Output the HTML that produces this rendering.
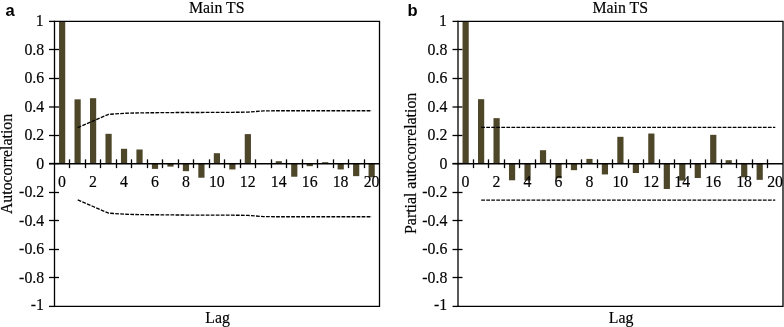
<!DOCTYPE html>
<html><head><meta charset="utf-8"><title>ACF and PACF</title>
<style>
html,body{margin:0;padding:0;background:#fff;}
svg{display:block;}
.t{font-family:"Liberation Serif",serif;font-size:15.85px;fill:#000;stroke:#000;stroke-width:0.16px;}
.b{font-family:"Liberation Sans",sans-serif;font-weight:bold;font-size:16.5px;fill:#000;}
</style></head><body>
<svg width="784" height="327" viewBox="0 0 784 327">
<rect width="784" height="327" fill="#fff"/>
<g>
<path d="M49.00,49.50 H59.00" stroke="#000" stroke-width="1.3" fill="none"/>
<path d="M49.00,78.50 H59.00" stroke="#000" stroke-width="1.3" fill="none"/>
<path d="M49.00,107.00 H59.00" stroke="#000" stroke-width="1.3" fill="none"/>
<path d="M49.00,135.50 H59.00" stroke="#000" stroke-width="1.3" fill="none"/>
<path d="M49.00,163.50 H59.00" stroke="#000" stroke-width="1.3" fill="none"/>
<path d="M49.00,192.50 H59.00" stroke="#000" stroke-width="1.3" fill="none"/>
<path d="M49.00,220.50 H59.00" stroke="#000" stroke-width="1.3" fill="none"/>
<path d="M49.00,249.50 H59.00" stroke="#000" stroke-width="1.3" fill="none"/>
<path d="M49.00,277.50 H59.00" stroke="#000" stroke-width="1.3" fill="none"/>
<path d="M49.00,21.40 H55.00" stroke="#000" stroke-width="1.3" fill="none"/>
<path d="M49.00,306.40 H55.00" stroke="#000" stroke-width="1.3" fill="none"/>
<rect x="59.04" y="21.25" width="6.2" height="142.50" fill="#4d4629"/>
<rect x="74.51" y="99.34" width="6.2" height="64.41" fill="#4d4629"/>
<rect x="89.99" y="98.20" width="6.2" height="65.55" fill="#4d4629"/>
<rect x="105.47" y="133.82" width="6.2" height="29.93" fill="#4d4629"/>
<rect x="120.94" y="148.79" width="6.2" height="14.96" fill="#4d4629"/>
<rect x="136.42" y="149.50" width="6.2" height="14.25" fill="#4d4629"/>
<rect x="151.90" y="163.75" width="6.2" height="5.13" fill="#4d4629"/>
<rect x="167.37" y="163.75" width="6.2" height="2.85" fill="#4d4629"/>
<rect x="182.85" y="163.75" width="6.2" height="7.41" fill="#4d4629"/>
<rect x="198.32" y="163.75" width="6.2" height="13.97" fill="#4d4629"/>
<rect x="213.80" y="153.21" width="6.2" height="10.54" fill="#4d4629"/>
<rect x="229.28" y="163.75" width="6.2" height="5.70" fill="#4d4629"/>
<rect x="244.75" y="134.11" width="6.2" height="29.64" fill="#4d4629"/>
<rect x="275.70" y="161.19" width="6.2" height="2.56" fill="#4d4629"/>
<rect x="291.18" y="163.75" width="6.2" height="12.97" fill="#4d4629"/>
<rect x="306.66" y="163.75" width="6.2" height="2.42" fill="#4d4629"/>
<rect x="322.13" y="162.18" width="6.2" height="1.57" fill="#4d4629"/>
<rect x="337.61" y="163.75" width="6.2" height="5.70" fill="#4d4629"/>
<rect x="353.09" y="163.75" width="6.2" height="12.40" fill="#4d4629"/>
<rect x="368.56" y="163.75" width="6.2" height="13.54" fill="#4d4629"/>
<path d="M54.50,21.4 H379.50 V306.4 H54.50 Z" stroke="#000" stroke-width="1.3" fill="none"/>
<path d="M49.00,163.75 H379.50" stroke="#000" stroke-width="1.3" fill="none"/>
<text transform="translate(43.80,25.80) scale(1,1.08)" text-anchor="end" class="t">1</text>
<text transform="translate(44.20,54.80) scale(1,1.08)" text-anchor="end" class="t">0.8</text>
<text transform="translate(44.20,83.30) scale(1,1.08)" text-anchor="end" class="t">0.6</text>
<text transform="translate(44.20,111.80) scale(1,1.08)" text-anchor="end" class="t">0.4</text>
<text transform="translate(44.20,140.30) scale(1,1.08)" text-anchor="end" class="t">0.2</text>
<text transform="translate(44.20,168.80) scale(1,1.08)" text-anchor="end" class="t">0</text>
<text transform="translate(44.20,197.30) scale(1,1.08)" text-anchor="end" class="t">-0.2</text>
<text transform="translate(44.20,225.80) scale(1,1.08)" text-anchor="end" class="t">-0.4</text>
<text transform="translate(44.20,254.30) scale(1,1.08)" text-anchor="end" class="t">-0.6</text>
<text transform="translate(44.20,282.80) scale(1,1.08)" text-anchor="end" class="t">-0.8</text>
<text transform="translate(43.90,310.40) scale(1,1.08)" text-anchor="end" class="t">-1</text>
<path d="M69.50,159.35 V168.15" stroke="#000" stroke-width="1.3" fill="none"/>
<path d="M85.50,159.35 V168.15" stroke="#000" stroke-width="1.3" fill="none"/>
<path d="M100.50,159.35 V168.15" stroke="#000" stroke-width="1.3" fill="none"/>
<path d="M116.50,159.35 V168.15" stroke="#000" stroke-width="1.3" fill="none"/>
<path d="M131.50,159.35 V168.15" stroke="#000" stroke-width="1.3" fill="none"/>
<path d="M147.50,159.35 V168.15" stroke="#000" stroke-width="1.3" fill="none"/>
<path d="M162.50,159.35 V168.15" stroke="#000" stroke-width="1.3" fill="none"/>
<path d="M178.50,159.35 V168.15" stroke="#000" stroke-width="1.3" fill="none"/>
<path d="M193.50,159.35 V168.15" stroke="#000" stroke-width="1.3" fill="none"/>
<path d="M209.50,159.35 V168.15" stroke="#000" stroke-width="1.3" fill="none"/>
<path d="M224.50,159.35 V168.15" stroke="#000" stroke-width="1.3" fill="none"/>
<path d="M240.50,159.35 V168.15" stroke="#000" stroke-width="1.3" fill="none"/>
<path d="M255.50,159.35 V168.15" stroke="#000" stroke-width="1.3" fill="none"/>
<path d="M271.50,159.35 V168.15" stroke="#000" stroke-width="1.3" fill="none"/>
<path d="M286.50,159.35 V168.15" stroke="#000" stroke-width="1.3" fill="none"/>
<path d="M302.50,159.35 V168.15" stroke="#000" stroke-width="1.3" fill="none"/>
<path d="M317.50,159.35 V168.15" stroke="#000" stroke-width="1.3" fill="none"/>
<path d="M333.50,159.35 V168.15" stroke="#000" stroke-width="1.3" fill="none"/>
<path d="M348.50,159.35 V168.15" stroke="#000" stroke-width="1.3" fill="none"/>
<path d="M364.50,159.35 V168.15" stroke="#000" stroke-width="1.3" fill="none"/>
<text transform="translate(62.04,187.20) scale(1,1.08)" text-anchor="middle" class="t">0</text>
<text transform="translate(92.99,187.20) scale(1,1.08)" text-anchor="middle" class="t">2</text>
<text transform="translate(123.94,187.20) scale(1,1.08)" text-anchor="middle" class="t">4</text>
<text transform="translate(154.90,187.20) scale(1,1.08)" text-anchor="middle" class="t">6</text>
<text transform="translate(185.85,187.20) scale(1,1.08)" text-anchor="middle" class="t">8</text>
<text transform="translate(216.80,187.20) scale(1,1.08)" text-anchor="middle" class="t">10</text>
<text transform="translate(247.75,187.20) scale(1,1.08)" text-anchor="middle" class="t">12</text>
<text transform="translate(278.70,187.20) scale(1,1.08)" text-anchor="middle" class="t">14</text>
<text transform="translate(309.66,187.20) scale(1,1.08)" text-anchor="middle" class="t">16</text>
<text transform="translate(340.61,187.20) scale(1,1.08)" text-anchor="middle" class="t">18</text>
<text transform="translate(371.56,187.20) scale(1,1.08)" text-anchor="middle" class="t">20</text>
<polyline points="77.71,127.56 93.19,121.00 108.67,114.30 124.14,113.31 139.62,112.88 155.10,112.73 170.57,112.59 186.05,112.45 201.52,112.45 217.00,112.31 232.48,112.31 247.95,112.16 263.43,110.88 278.90,110.74 294.38,110.74 309.86,110.74 325.33,110.74 340.81,110.74 356.29,110.74 371.76,110.74" fill="none" stroke="#000" stroke-width="1.35" stroke-dasharray="3.75 1.28"/>
<polyline points="77.71,199.94 93.19,206.50 108.67,213.20 124.14,214.19 139.62,214.62 155.10,214.76 170.57,214.91 186.05,215.05 201.52,215.05 217.00,215.19 232.48,215.19 247.95,215.34 263.43,216.62 278.90,216.76 294.38,216.76 309.86,216.76 325.33,216.76 340.81,216.76 356.29,216.76 371.76,216.76" fill="none" stroke="#000" stroke-width="1.35" stroke-dasharray="3.75 1.28"/>
<text transform="translate(216.70,12.70) scale(1,1.08)" text-anchor="middle" class="t">Main TS</text>
<text transform="translate(217.60,322.50) scale(1,1.08)" text-anchor="middle" class="t">Lag</text>
<text transform="translate(12.30,163.95) rotate(-90) scale(1,1.08)" text-anchor="middle" class="t">Autocorrelation</text>
<text transform="translate(5.40,16.10) scale(1,1.04)" text-anchor="start" class="b">a</text>
</g>
<g>
<path d="M452.50,49.50 H462.50" stroke="#000" stroke-width="1.3" fill="none"/>
<path d="M452.50,78.50 H462.50" stroke="#000" stroke-width="1.3" fill="none"/>
<path d="M452.50,107.00 H462.50" stroke="#000" stroke-width="1.3" fill="none"/>
<path d="M452.50,135.50 H462.50" stroke="#000" stroke-width="1.3" fill="none"/>
<path d="M452.50,163.50 H462.50" stroke="#000" stroke-width="1.3" fill="none"/>
<path d="M452.50,192.50 H462.50" stroke="#000" stroke-width="1.3" fill="none"/>
<path d="M452.50,220.50 H462.50" stroke="#000" stroke-width="1.3" fill="none"/>
<path d="M452.50,249.50 H462.50" stroke="#000" stroke-width="1.3" fill="none"/>
<path d="M452.50,277.50 H462.50" stroke="#000" stroke-width="1.3" fill="none"/>
<path d="M452.50,21.40 H458.50" stroke="#000" stroke-width="1.3" fill="none"/>
<path d="M452.50,306.40 H458.50" stroke="#000" stroke-width="1.3" fill="none"/>
<rect x="462.54" y="21.25" width="6.2" height="142.50" fill="#4d4629"/>
<rect x="478.01" y="99.20" width="6.2" height="64.55" fill="#4d4629"/>
<rect x="493.49" y="118.15" width="6.2" height="45.60" fill="#4d4629"/>
<rect x="508.97" y="163.75" width="6.2" height="16.53" fill="#4d4629"/>
<rect x="524.44" y="163.75" width="6.2" height="16.81" fill="#4d4629"/>
<rect x="539.92" y="150.21" width="6.2" height="13.54" fill="#4d4629"/>
<rect x="555.40" y="163.75" width="6.2" height="14.53" fill="#4d4629"/>
<rect x="570.87" y="163.75" width="6.2" height="6.41" fill="#4d4629"/>
<rect x="586.35" y="158.91" width="6.2" height="4.84" fill="#4d4629"/>
<rect x="601.82" y="163.75" width="6.2" height="10.69" fill="#4d4629"/>
<rect x="617.30" y="136.82" width="6.2" height="26.93" fill="#4d4629"/>
<rect x="632.78" y="163.75" width="6.2" height="9.26" fill="#4d4629"/>
<rect x="648.25" y="133.54" width="6.2" height="30.21" fill="#4d4629"/>
<rect x="663.73" y="163.75" width="6.2" height="25.22" fill="#4d4629"/>
<rect x="679.20" y="163.75" width="6.2" height="16.81" fill="#4d4629"/>
<rect x="694.68" y="163.75" width="6.2" height="14.25" fill="#4d4629"/>
<rect x="710.16" y="134.82" width="6.2" height="28.93" fill="#4d4629"/>
<rect x="725.63" y="160.19" width="6.2" height="3.56" fill="#4d4629"/>
<rect x="741.11" y="163.75" width="6.2" height="13.54" fill="#4d4629"/>
<rect x="756.59" y="163.75" width="6.2" height="16.10" fill="#4d4629"/>
<path d="M458.00,21.4 H783.00 V306.4 H458.00 Z" stroke="#000" stroke-width="1.3" fill="none"/>
<path d="M452.50,163.75 H783.00" stroke="#000" stroke-width="1.3" fill="none"/>
<text transform="translate(447.00,25.80) scale(1,1.08)" text-anchor="end" class="t">1</text>
<text transform="translate(447.40,54.80) scale(1,1.08)" text-anchor="end" class="t">0.8</text>
<text transform="translate(447.40,83.30) scale(1,1.08)" text-anchor="end" class="t">0.6</text>
<text transform="translate(447.40,111.80) scale(1,1.08)" text-anchor="end" class="t">0.4</text>
<text transform="translate(447.40,140.30) scale(1,1.08)" text-anchor="end" class="t">0.2</text>
<text transform="translate(447.40,168.80) scale(1,1.08)" text-anchor="end" class="t">0</text>
<text transform="translate(447.40,197.30) scale(1,1.08)" text-anchor="end" class="t">-0.2</text>
<text transform="translate(447.40,225.80) scale(1,1.08)" text-anchor="end" class="t">-0.4</text>
<text transform="translate(447.40,254.30) scale(1,1.08)" text-anchor="end" class="t">-0.6</text>
<text transform="translate(447.40,282.80) scale(1,1.08)" text-anchor="end" class="t">-0.8</text>
<text transform="translate(447.10,310.40) scale(1,1.08)" text-anchor="end" class="t">-1</text>
<path d="M473.50,159.35 V168.15" stroke="#000" stroke-width="1.3" fill="none"/>
<path d="M488.50,159.35 V168.15" stroke="#000" stroke-width="1.3" fill="none"/>
<path d="M504.50,159.35 V168.15" stroke="#000" stroke-width="1.3" fill="none"/>
<path d="M519.50,159.35 V168.15" stroke="#000" stroke-width="1.3" fill="none"/>
<path d="M535.50,159.35 V168.15" stroke="#000" stroke-width="1.3" fill="none"/>
<path d="M550.50,159.35 V168.15" stroke="#000" stroke-width="1.3" fill="none"/>
<path d="M566.50,159.35 V168.15" stroke="#000" stroke-width="1.3" fill="none"/>
<path d="M581.50,159.35 V168.15" stroke="#000" stroke-width="1.3" fill="none"/>
<path d="M597.50,159.35 V168.15" stroke="#000" stroke-width="1.3" fill="none"/>
<path d="M612.50,159.35 V168.15" stroke="#000" stroke-width="1.3" fill="none"/>
<path d="M628.50,159.35 V168.15" stroke="#000" stroke-width="1.3" fill="none"/>
<path d="M643.50,159.35 V168.15" stroke="#000" stroke-width="1.3" fill="none"/>
<path d="M659.50,159.35 V168.15" stroke="#000" stroke-width="1.3" fill="none"/>
<path d="M674.50,159.35 V168.15" stroke="#000" stroke-width="1.3" fill="none"/>
<path d="M690.50,159.35 V168.15" stroke="#000" stroke-width="1.3" fill="none"/>
<path d="M705.50,159.35 V168.15" stroke="#000" stroke-width="1.3" fill="none"/>
<path d="M721.50,159.35 V168.15" stroke="#000" stroke-width="1.3" fill="none"/>
<path d="M736.50,159.35 V168.15" stroke="#000" stroke-width="1.3" fill="none"/>
<path d="M752.50,159.35 V168.15" stroke="#000" stroke-width="1.3" fill="none"/>
<path d="M767.50,159.35 V168.15" stroke="#000" stroke-width="1.3" fill="none"/>
<text transform="translate(465.54,187.20) scale(1,1.08)" text-anchor="middle" class="t">0</text>
<text transform="translate(496.49,187.20) scale(1,1.08)" text-anchor="middle" class="t">2</text>
<text transform="translate(527.44,187.20) scale(1,1.08)" text-anchor="middle" class="t">4</text>
<text transform="translate(558.40,187.20) scale(1,1.08)" text-anchor="middle" class="t">6</text>
<text transform="translate(589.35,187.20) scale(1,1.08)" text-anchor="middle" class="t">8</text>
<text transform="translate(620.30,187.20) scale(1,1.08)" text-anchor="middle" class="t">10</text>
<text transform="translate(651.25,187.20) scale(1,1.08)" text-anchor="middle" class="t">12</text>
<text transform="translate(682.20,187.20) scale(1,1.08)" text-anchor="middle" class="t">14</text>
<text transform="translate(713.16,187.20) scale(1,1.08)" text-anchor="middle" class="t">16</text>
<text transform="translate(744.11,187.20) scale(1,1.08)" text-anchor="middle" class="t">18</text>
<text transform="translate(775.06,187.20) scale(1,1.08)" text-anchor="middle" class="t">20</text>
<polyline points="481.21,127.41 496.69,127.41 512.17,127.41 527.64,127.41 543.12,127.41 558.60,127.41 574.07,127.41 589.55,127.41 605.02,127.41 620.50,127.41 635.98,127.41 651.45,127.41 666.93,127.41 682.40,127.41 697.88,127.41 713.36,127.41 728.83,127.41 744.31,127.41 759.79,127.41 775.26,127.41" fill="none" stroke="#000" stroke-width="1.35" stroke-dasharray="3.75 1.28"/>
<polyline points="481.21,200.09 496.69,200.09 512.17,200.09 527.64,200.09 543.12,200.09 558.60,200.09 574.07,200.09 589.55,200.09 605.02,200.09 620.50,200.09 635.98,200.09 651.45,200.09 666.93,200.09 682.40,200.09 697.88,200.09 713.36,200.09 728.83,200.09 744.31,200.09 759.79,200.09 775.26,200.09" fill="none" stroke="#000" stroke-width="1.35" stroke-dasharray="3.75 1.28"/>
<text transform="translate(620.20,12.70) scale(1,1.08)" text-anchor="middle" class="t">Main TS</text>
<text transform="translate(621.10,322.50) scale(1,1.08)" text-anchor="middle" class="t">Lag</text>
<text transform="translate(415.50,163.35) rotate(-90) scale(1,1.08)" text-anchor="middle" class="t">Partial autocorrelation</text>
<text transform="translate(407.50,16.10) scale(1,1.04)" text-anchor="start" class="b">b</text>
</g>
</svg>
</body></html>
